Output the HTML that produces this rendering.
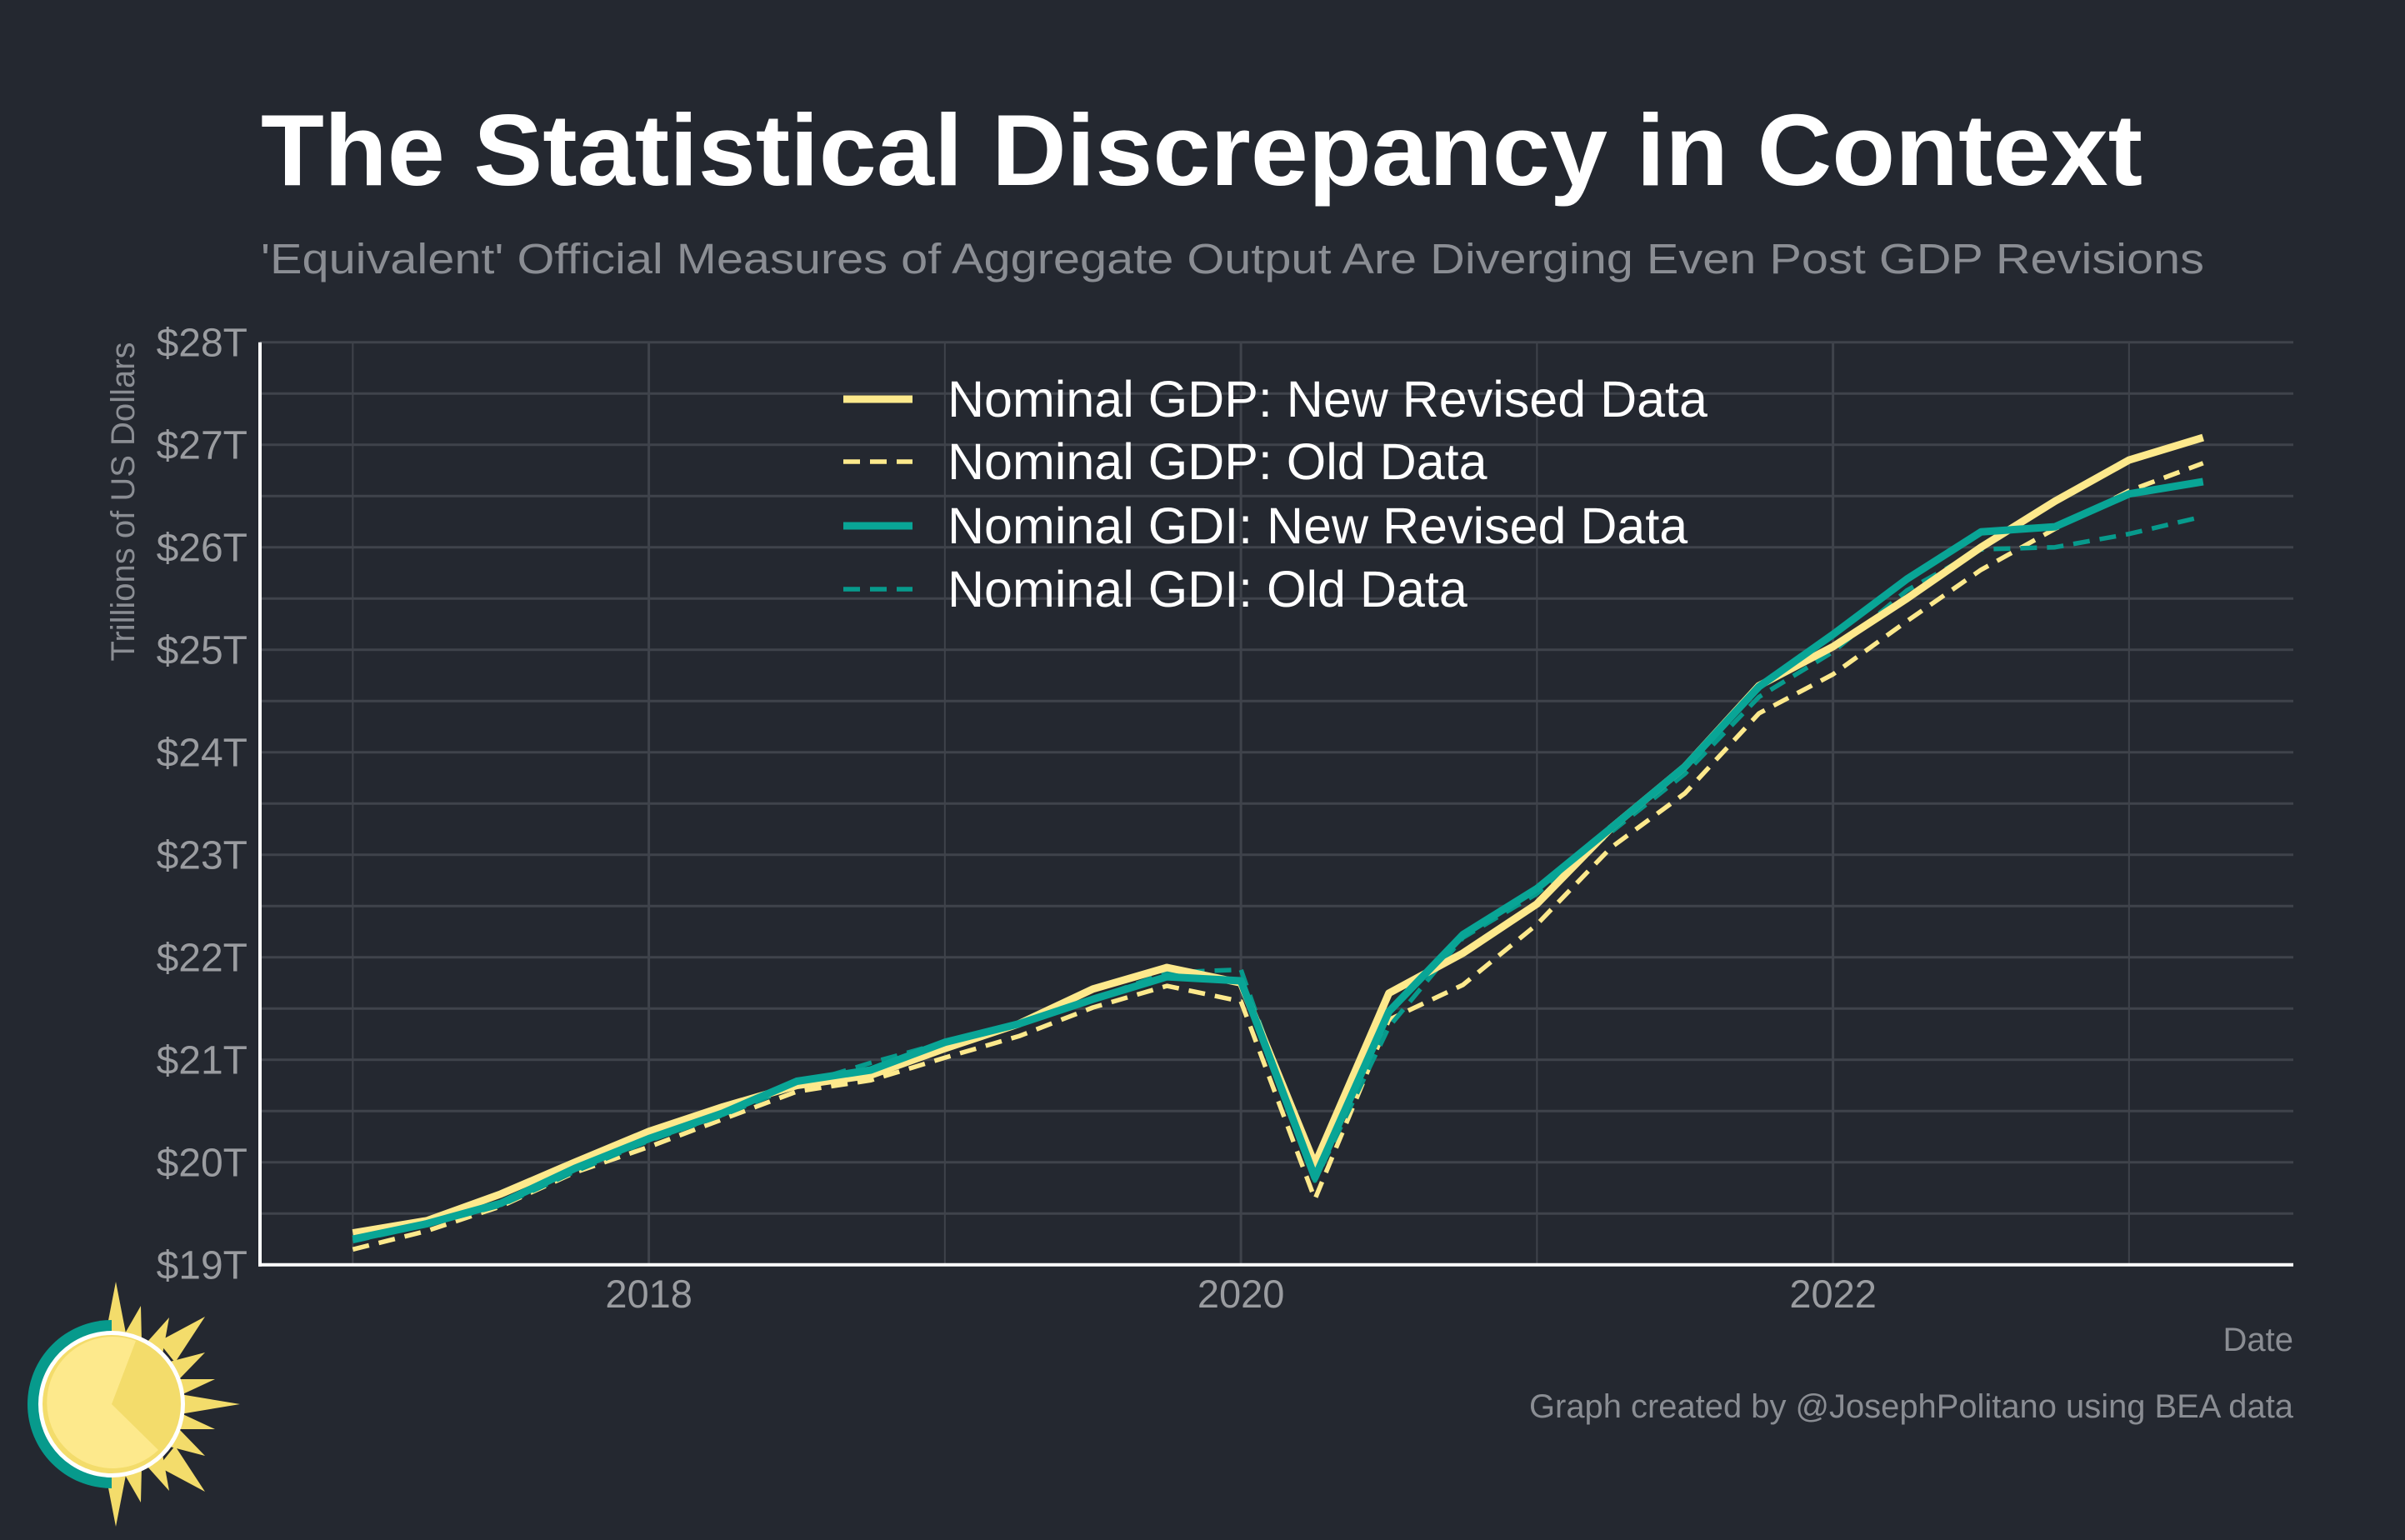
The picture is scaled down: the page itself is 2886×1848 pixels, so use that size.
<!DOCTYPE html>
<html><head><meta charset="utf-8">
<style>
html,body{margin:0;padding:0;background:#242830;}
body{width:2886px;height:1843px;overflow:hidden;font-family:"Liberation Sans",Arial,sans-serif;}
</style></head>
<body>
<svg id="chart" width="2886" height="1843" viewBox="0 0 2886 1843" xmlns="http://www.w3.org/2000/svg">
<rect width="2886" height="1843" fill="#242830"/>
<text x="313" y="222" font-size="122" font-weight="bold" fill="#ffffff" textLength="2258" lengthAdjust="spacingAndGlyphs">The Statistical Discrepancy in Context</text>
<text x="313" y="328" font-size="51" fill="#8a8d93" textLength="2332" lengthAdjust="spacingAndGlyphs">'Equivalent' Official Measures of Aggregate Output Are Diverging Even Post GDP Revisions</text>
<g id="grid"></g>
<g id="series"></g>
<g id="axes"></g>
<text transform="translate(161,602) rotate(-90)" text-anchor="middle" font-size="40" fill="#8a8d93" textLength="383" lengthAdjust="spacingAndGlyphs">Trillions of US Dollars</text>
<text x="2752" y="1621" text-anchor="end" font-size="40" fill="#8a8d93">Date</text>
<text x="2752" y="1701" text-anchor="end" font-size="40" fill="#8a8d93" textLength="917" lengthAdjust="spacingAndGlyphs">Graph created by @JosephPolitano using BEA data</text>
<g id="legend"></g>
<g>
<polygon fill="#f3dc6b" points="139,1538 152,1605 126,1605"/>
<polygon fill="#f3dc6b" points="139,1832 152,1765 126,1765"/>
<polygon fill="#f3dc6b" points="288,1685 210,1672 210,1698"/>
<polygon fill="#f3dc6b" points="169,1567 170,1610 150,1600"/>
<polygon fill="#f3dc6b" points="169,1803 170,1760 150,1770"/>
<polygon fill="#f3dc6b" points="203,1581 195,1625 177,1610"/>
<polygon fill="#f3dc6b" points="203,1789 195,1745 177,1760"/>
<polygon fill="#f3dc6b" points="246,1580 210,1635 190,1610"/>
<polygon fill="#f3dc6b" points="246,1790 210,1735 190,1760"/>
<polygon fill="#f3dc6b" points="246,1623 215,1655 200,1635"/>
<polygon fill="#f3dc6b" points="246,1747 215,1715 200,1735"/>
<polygon fill="#f3dc6b" points="258,1655 215,1675 210,1655"/>
<polygon fill="#f3dc6b" points="258,1715 215,1695 210,1715"/>
<path d="M134,1584 A101,101 0 0 0 134,1786 Z" fill="#079a8c"/>
<circle cx="134" cy="1685" r="88" fill="#ffffff"/>
<circle cx="134" cy="1685" r="83" fill="#f3dc6b"/>
<path d="M134,1685 L163,1609 A79,79 0 1 0 190,1740 Z" fill="#fde98c"/>
</g>
<script>
const dates = [2017,2017.25,2017.5,2017.75,2018,2018.25,2018.5,2018.75,2019,2019.25,2019.5,2019.75,2020,2020.25,2020.5,2020.75,2021,2021.25,2021.5,2021.75,2022,2022.25,2022.5,2022.75,2023,2023.25];
const gdpNew = [19.31,19.43,19.69,20.0,20.3,20.54,20.75,20.85,21.11,21.35,21.69,21.9,21.75,19.98,21.65,22.04,22.52,23.26,23.86,24.65,25.03,25.5,26.0,26.45,26.85,27.07];
const gdpOld = [19.15,19.33,19.57,19.9,20.15,20.42,20.69,20.8,21.02,21.23,21.51,21.72,21.57,19.64,21.39,21.73,22.32,23.07,23.6,24.38,24.76,25.28,25.78,26.18,26.55,26.82];
const gdiNew = [19.25,19.4,19.6,19.94,20.23,20.48,20.79,20.9,21.17,21.35,21.59,21.81,21.77,19.85,21.47,22.22,22.67,23.26,23.86,24.64,25.15,25.69,26.15,26.2,26.52,26.64];
const gdiOld = [19.23,19.39,19.58,19.91,20.21,20.46,20.75,20.97,21.17,21.36,21.59,21.85,21.88,19.82,21.32,22.19,22.62,23.22,23.79,24.54,24.98,25.58,25.98,26.0,26.13,26.3];
const yTicks = [19,20,21,22,23,24,25,26,27,28];
const xTicks = [2018,2020,2022];
const seriesNames = ["Nominal GDP: New Revised Data","Nominal GDP: Old Data","Nominal GDI: New Revised Data","Nominal GDI: Old Data"];

const NS = "http://www.w3.org/2000/svg";
const L = 312, R = 2752, T = 410.7, B = 1517.7;
const xS = d => 778.6 + (d - 2018) * 355.25;
const yS = v => T + (28 - v) * 123;
function mk(tag, attrs, parent){ const e=document.createElementNS(NS,tag); for(const k in attrs) e.setAttribute(k,attrs[k]); parent.appendChild(e); return e; }
const grid = document.getElementById('grid');
for (let v = 19; v <= 28; v += 0.5) {
  const ln = mk('line',{x1:L,x2:R,y1:yS(v),y2:yS(v),stroke:'#3f434b','stroke-width':3},grid);
  
  
}
for (let yr = 2017; yr <= 2023; yr++) {
  const ln = mk('line',{x1:xS(yr),x2:xS(yr),y1:T,y2:B,stroke:'#3f434b','stroke-width':yr%2===0?3:2},grid);
  
  
}
const axes = document.getElementById('axes');
yTicks.forEach(v => {
  const t = mk('text',{x:297,y:yS(v)+17,'text-anchor':'end','font-size':48,fill:'#9a9ca0'},axes);
  t.textContent = '$' + v + 'T';
  
  
});
xTicks.forEach(d => {
  const t = mk('text',{x:xS(d),y:1569,'text-anchor':'middle','font-size':47,fill:'#9a9ca0'},axes);
  t.textContent = String(d);
  
  
});
const ya = mk('line',{x1:L,x2:L,y1:T,y2:B+2,stroke:'#ffffff','stroke-width':4},axes);


const xa = mk('line',{x1:L-2,x2:R,y1:B,y2:B,stroke:'#ffffff','stroke-width':4},axes);



const sg = document.getElementById('series');
const styles = [
  {data:gdpNew,color:'#fde98c',w:9,dash:null,name:'gdp-new-line'},
  {data:gdpOld,color:'#fde98c',w:5.5,dash:'20 12',name:'gdp-old-line'},
  {data:gdiNew,color:'#09a596',w:9,dash:null,name:'gdi-new-line'},
  {data:gdiOld,color:'#079a8c',w:5.5,dash:'20 12',name:'gdi-old-line'}
];
const order = [1,3,0,2];
order.forEach(i => {
  const s = styles[i];
  const pts = s.data.map((v,j)=> xS(dates[j]).toFixed(1)+','+yS(v).toFixed(1)).join(' ');
  const attrs = {points:pts,fill:'none',stroke:s.color,'stroke-width':s.w,'stroke-linejoin':'round'};
  if (s.dash) attrs['stroke-dasharray'] = s.dash;
  const p = mk('polyline',attrs,sg);
  
  
});
const lg = document.getElementById('legend');
const rowsY = [479,554,631,707];
styles.forEach((s,i) => {
  const attrs = {x1:1012,x2:1095,y1:rowsY[i],y2:rowsY[i],stroke:s.color,'stroke-width':s.w};
  if (s.dash) attrs['stroke-dasharray'] = '20 12';
  const ln = mk('line',attrs,lg);
  
  
  const t = mk('text',{x:1137,y:rowsY[i]+21,'font-size':61,fill:'#ffffff'},lg);
  t.textContent = seriesNames[i];
  
  
});
</script>
</svg>
</body></html>
